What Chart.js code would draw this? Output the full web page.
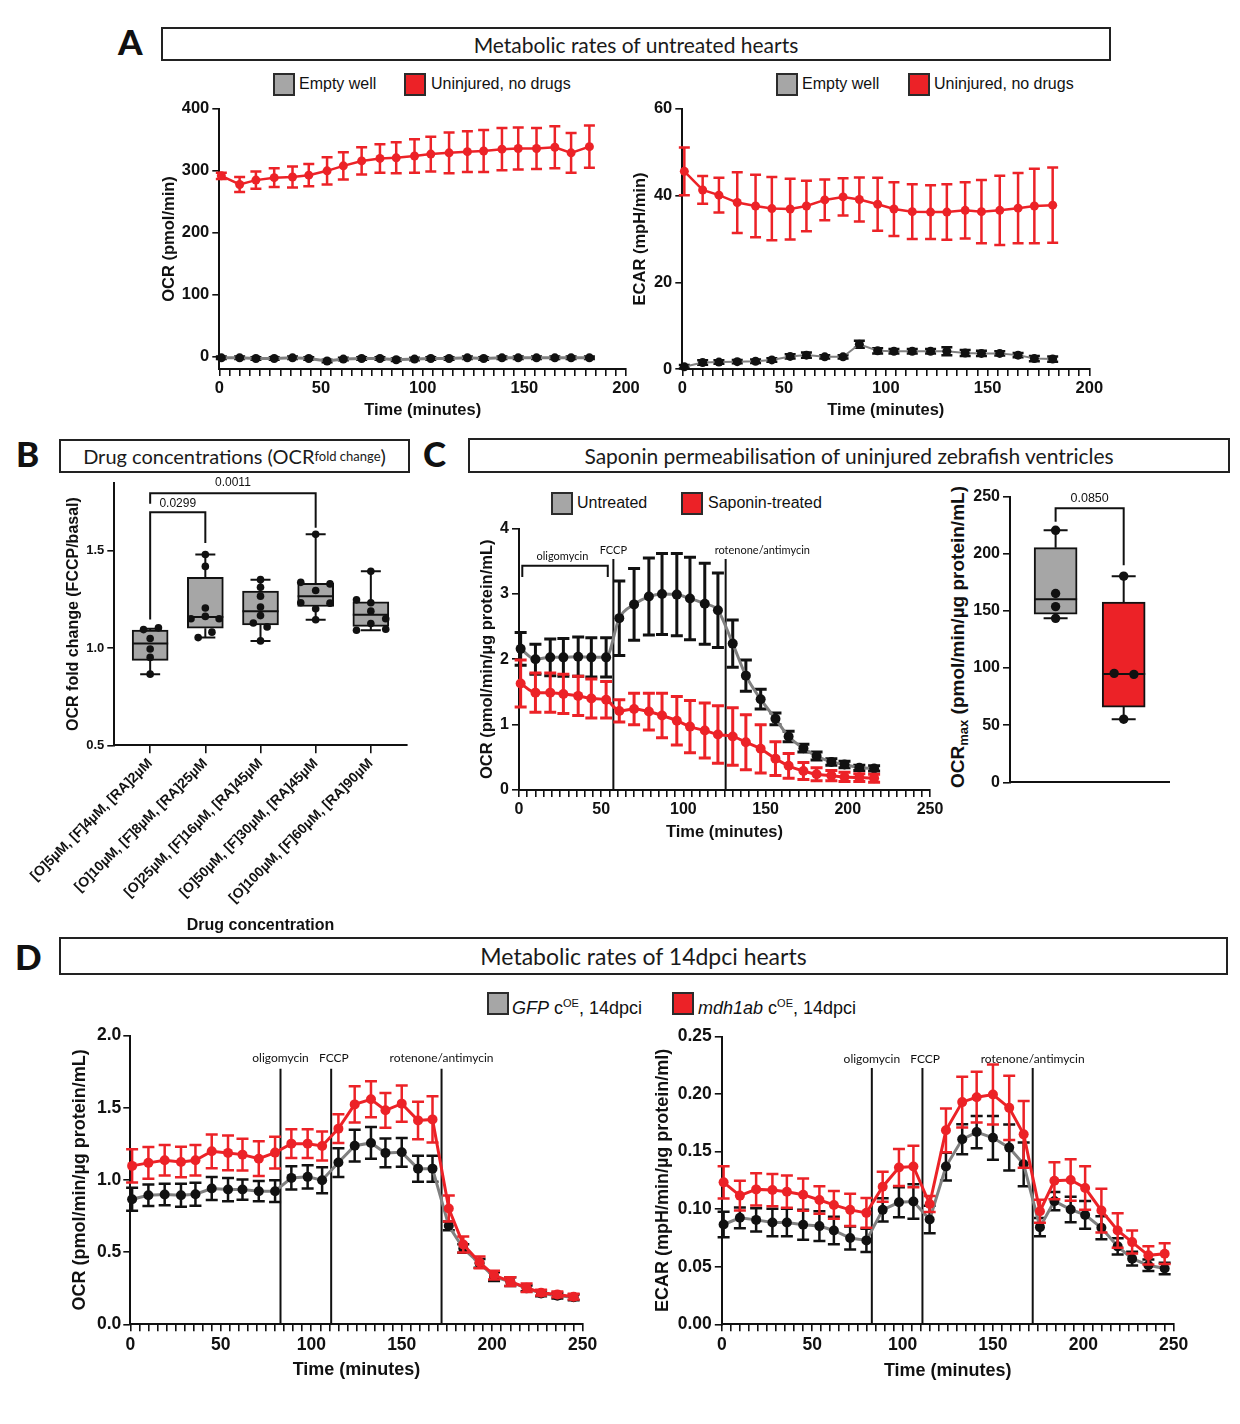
<!DOCTYPE html>
<html><head><meta charset="utf-8">
<title>Metabolic rates</title>
<script src="https://cdn.jsdelivr.net/npm/chart.js@4.4.1/dist/chart.umd.min.js"></script>
<style>
html,body{margin:0;padding:0;background:#fff}
body{width:1240px;height:1424px;position:relative;overflow:hidden;font-family:'Liberation Sans',Arial,sans-serif;color:#111}
.letter{position:absolute;font-family:Lato,sans-serif;font-weight:900;font-size:35px;line-height:35px;color:#111}
.tbox{position:absolute;box-sizing:border-box;border:2px solid #222;display:flex;align-items:center;justify-content:center;font-family:Lato,sans-serif;font-size:21px;color:#1a1a1a;white-space:nowrap}
.tbox sub{font-size:13px;vertical-align:-3px}
.sw{position:absolute;box-sizing:border-box;width:22px;height:23px;border:2px solid #2b2b2b}
.lt{position:absolute;font-size:16px;line-height:20px;white-space:nowrap}
.lt sup{font-size:11px}
canvas{position:absolute}
.ytitle{position:absolute;transform:translate(-50%,-50%) rotate(-90deg);white-space:nowrap;font-weight:bold;font-size:19px;line-height:22px}
.ytitle sub{font-size:13px;vertical-align:-4px}
</style></head><body>

<div class="letter" style="left:118px;top:24px">A</div>
<div class="letter" style="left:16px;top:436px">B</div>
<div class="letter" style="left:423px;top:436px">C</div>
<div class="letter" style="left:15px;top:939px">D</div>

<div class="tbox" style="left:161px;top:27px;width:950px;height:34px">Metabolic rates of untreated hearts</div>
<div class="tbox" style="left:59px;top:439px;width:351px;height:34px;font-size:20px">Drug concentrations (OCR<sub>fold change</sub>)</div>
<div class="tbox" style="left:468px;top:438px;width:762px;height:35px">Saponin permeabilisation of uninjured zebrafish ventricles</div>
<div class="tbox" style="left:59px;top:937px;width:1169px;height:38px;font-size:23px">Metabolic rates of 14dpci hearts</div>

<div class="sw" style="left:273px;top:73px;background:#a6a6a6"></div>
<div class="lt" style="left:299px;top:74px">Empty well</div>
<div class="sw" style="left:404px;top:73px;background:#ec2227"></div>
<div class="lt" style="left:431px;top:74px">Uninjured, no drugs</div>

<div class="sw" style="left:776px;top:73px;background:#a6a6a6"></div>
<div class="lt" style="left:802px;top:74px">Empty well</div>
<div class="sw" style="left:908px;top:73px;background:#ec2227"></div>
<div class="lt" style="left:934px;top:74px">Uninjured, no drugs</div>

<div class="sw" style="left:551px;top:492px;background:#a6a6a6"></div>
<div class="lt" style="left:577px;top:493px">Untreated</div>
<div class="sw" style="left:681px;top:492px;background:#ec2227"></div>
<div class="lt" style="left:708px;top:493px">Saponin-treated</div>

<div class="sw" style="left:487px;top:992px;background:#a6a6a6"></div>
<div class="lt" style="left:512px;top:993px;font-size:18px"><i>GFP</i> c<sup>OE</sup>, 14dpci</div>
<div class="sw" style="left:672px;top:992px;background:#ec2227"></div>
<div class="lt" style="left:698px;top:993px;font-size:18px"><i>mdh1ab</i> c<sup>OE</sup>, 14dpci</div>

<div class="ytitle" style="left:961px;top:637px">OCR<sub>max</sub> (pmol/min/µg protein/mL)</div>

<script>
// ---------------- DATA ----------------
// Panel A (time in minutes)
const aTime = [1,10,18,27,36,44,53,61,70,79,87,96,104,113,122,130,139,147,156,165,173,182];
const aOcrEmpty   = [-2,-2,-3,-3,-2,-3,-7,-4,-3,-3,-5,-4,-3,-3,-2,-3,-2,-2,-2,-2,-2,-2];
const aOcrEmptySd = [2,2,2,2,2,2,2,2,2,2,2,2,2,2,2,2,2,2,2,2,2,2];
const aOcrUninj   = [292,278,285,289,290,293,300,308,316,320,321,324,327,329,331,332,335,336,336,338,329,339];
const aOcrUninjSd = [5,12,14,15,17,18,22,22,22,23,25,27,28,33,33,34,34,34,33,34,32,34];
const aEcarEmpty   = [0.5,1.5,1.6,1.7,1.8,2.1,2.9,3.2,2.8,2.8,5.7,4.2,4.1,4.1,4.1,4.1,3.7,3.6,3.6,3.2,2.4,2.3];
const aEcarEmptySd = [0.4,0.5,0.4,0.4,0.4,0.4,0.5,0.6,0.4,0.4,0.8,0.6,0.5,0.5,0.5,0.9,0.7,0.6,0.5,0.5,0.6,0.6];
const aEcarUninj   = [45.6,41.3,40.1,38.4,37.6,37.0,36.9,37.6,39.0,39.7,39.1,38.0,36.9,36.3,36.2,36.2,36.6,36.3,36.6,37.1,37.6,37.8];
const aEcarUninjSd = [5.5,3.2,4.0,7.0,7.2,7.3,7.0,5.8,4.7,4.3,5.1,6.1,6.2,6.3,6.2,6.4,6.5,7.3,8.0,8.1,8.6,8.7];
const aTimeLabels = [0,50,100,150,200];
const aOcrTicks = [0,100,200,300,400];
const aEcarTicks = [0,20,40,60];

// Panel B (box plots)
const bLabels = ['[O]5µM, [F]4µM, [RA]2µM','[O]10µM, [F]8µM, [RA]25µM','[O]25µM, [F]16µM, [RA]45µM','[O]50µM, [F]30µM, [RA]45µM','[O]100µM, [F]60µM, [RA]90µM'];
const bMin = [0.866,1.054,1.037,1.146,1.092];
const bQ1  = [0.937,1.102,1.119,1.214,1.112];
const bMed = [1.024,1.160,1.189,1.267,1.172];
const bQ3  = [1.092,1.364,1.293,1.333,1.238];
const bMax = [1.100,1.481,1.352,1.585,1.395];
const bPoints = [
  [1.095,1.104,1.049,0.995,0.952,0.866],
  [1.481,1.420,1.206,1.151,1.163,1.151,1.082,1.054],
  [1.352,1.313,1.267,1.211,1.167,1.129,1.109,1.037],
  [1.585,1.338,1.330,1.296,1.233,1.231,1.202,1.146],
  [1.395,1.248,1.233,1.190,1.151,1.126,1.092,1.097]
];
const bJitter = [
  [-0.12,0.15,0,0,0,0],
  [0,0,0,-0.26,0,0.25,0.12,-0.13],
  [0,0,0,0,0,-0.13,0.12,0],
  [0,-0.27,0.26,0,-0.27,0.26,0,0],
  [0,-0.26,0,0,0.27,0,-0.26,0.27]
];
const bTicks = [0.5,1.0,1.5];
const bPvals = ['0.0299','0.0011'];

// Panel C left
const cTime = [1,10,19,27,36,44,53,61,70,79,87,96,104,113,121,130,138,147,156,164,173,181,190,198,207,216];
const cUntreated   = [2.16,2.00,2.03,2.03,2.04,2.03,2.03,2.63,2.84,2.96,3.00,2.99,2.93,2.85,2.75,2.24,1.75,1.39,1.09,0.82,0.64,0.52,0.43,0.39,0.34,0.33];
const cUntreatedSd = [0.25,0.23,0.28,0.29,0.30,0.30,0.30,0.57,0.55,0.59,0.62,0.63,0.63,0.62,0.57,0.36,0.24,0.15,0.09,0.08,0.06,0.06,0.05,0.05,0.04,0.04];
const cSaponin   = [1.63,1.49,1.49,1.47,1.44,1.40,1.38,1.21,1.24,1.20,1.14,1.06,0.97,0.91,0.85,0.82,0.73,0.63,0.48,0.37,0.29,0.24,0.22,0.20,0.19,0.18];
const cSaponinSd = [0.36,0.30,0.30,0.30,0.30,0.30,0.28,0.17,0.24,0.28,0.34,0.37,0.40,0.42,0.44,0.44,0.42,0.37,0.26,0.19,0.13,0.10,0.08,0.07,0.06,0.06];
const cInjections = [57.4,125.7];
const cTimeLabels = [0,50,100,150,200,250];
const cOcrTicks = [0,1,2,3,4];

// Panel C right (OCR max box plots)
const cmMin = [143.5,55.3];
const cmQ1  = [147.2,65.9];
const cmMed = [160.1,94.8];
const cmQ3  = [205.3,157.8];
const cmMax = [220.5,180.4];
const cmPoints = [[220.5,165.2,153.8,143.5],[180.4,95.4,94.5,55.3]];
const cmJitter = [[0,0,0,0],[0,-0.14,0.15,0]];
const cmTicks = [0,50,100,150,200,250];
const cmPval = '0.0850';

// Panel D
const dTime = [1,10,19,28,36,45,54,62,71,80,89,98,106,115,124,133,141,150,159,167,176,184,193,201,210,219,227,236,245];
const dOcrGfp   = [0.866,0.894,0.899,0.894,0.901,0.940,0.933,0.933,0.922,0.922,1.014,1.021,0.998,1.120,1.237,1.256,1.187,1.191,1.078,1.078,0.682,0.525,0.422,0.330,0.295,0.249,0.214,0.198,0.187];
const dOcrGfpSd = [0.08,0.075,0.075,0.08,0.08,0.08,0.08,0.07,0.07,0.075,0.08,0.08,0.09,0.10,0.11,0.11,0.10,0.10,0.09,0.09,0.03,0.03,0.03,0.03,0.03,0.02,0.02,0.02,0.02];
const dOcrMdh   = [1.097,1.118,1.136,1.124,1.136,1.198,1.187,1.175,1.147,1.189,1.251,1.251,1.235,1.355,1.523,1.558,1.482,1.528,1.412,1.419,0.802,0.553,0.429,0.341,0.295,0.253,0.219,0.207,0.191];
const dOcrMdhSd = [0.115,0.11,0.105,0.105,0.105,0.117,0.12,0.11,0.12,0.11,0.10,0.10,0.10,0.10,0.125,0.125,0.12,0.125,0.13,0.16,0.09,0.055,0.04,0.03,0.03,0.03,0.02,0.02,0.02];
const dEcarGfp   = [0.0867,0.0925,0.0907,0.0884,0.0884,0.0864,0.0853,0.0815,0.0749,0.0729,0.0994,0.1060,0.1066,0.0910,0.1370,0.1607,0.1670,0.1620,0.1535,0.1390,0.0844,0.1070,0.0997,0.0950,0.0838,0.0677,0.0570,0.0513,0.0484];
const dEcarGfpSd = [0.011,0.009,0.010,0.012,0.012,0.013,0.013,0.012,0.010,0.010,0.010,0.013,0.015,0.012,0.012,0.013,0.014,0.019,0.020,0.019,0.008,0.008,0.011,0.012,0.010,0.007,0.006,0.005,0.005];
const dEcarMdh   = [0.1233,0.1118,0.1172,0.1166,0.1152,0.1126,0.1080,0.1037,0.0994,0.0968,0.1195,0.1362,0.1371,0.1045,0.1685,0.1930,0.1973,0.1996,0.1880,0.1650,0.0982,0.1247,0.1253,0.1184,0.0988,0.0815,0.0714,0.0599,0.0613];
const dEcarMdhSd = [0.014,0.013,0.014,0.014,0.014,0.014,0.012,0.012,0.014,0.013,0.013,0.016,0.018,0.007,0.019,0.022,0.022,0.026,0.028,0.029,0.010,0.016,0.018,0.019,0.019,0.015,0.010,0.008,0.009];
const dInjections = [83,111,172];
const injectionNames = ['oligomycin','FCCP','rotenone/antimycin'];
const dTimeLabels = [0,50,100,150,200,250];
const dOcrTicks = [0,0.5,1.0,1.5,2.0];
const dEcarTicks = [0,0.05,0.10,0.15,0.20,0.25];

// ---------------- STYLE / HELPERS ----------------
const RED='#ec2227', BLACK='#111111', LINEGRAY='#808080', BOXGRAY='#a6a6a6';
const FONT="'Liberation Sans', Arial, Helvetica, sans-serif";
Chart.defaults.font.family = FONT;
Chart.defaults.color = BLACK;
Chart.defaults.animation = false;
Chart.defaults.plugins.legend.display = false;
Chart.defaults.plugins.tooltip.enabled = false;

function makeCanvas(g){
  const c=document.createElement('canvas');
  c.width=g.W; c.height=g.H;
  c.style.left=g.L+'px'; c.style.top=g.T+'px';
  c.style.width=g.W+'px'; c.style.height=g.H+'px';
  document.body.appendChild(c); return c;
}
const gridOpt = (tl)=>({display:true,drawOnChartArea:false,drawTicks:true,tickLength:tl,color:BLACK,lineWidth:1.6,offset:false});
const borderOpt = {display:true,color:BLACK,width:2};

function xTime(min,max,labels,g,fs,tfs){
  return {type:'linear',min,max,offset:false,
    afterBuildTicks(ax){const t=[];for(let v=min;v<=max+0.001;v+=5)t.push({value:v});ax.ticks=t;},
    afterFit(ax){ax.height=g.xH;},
    ticks:{autoSkip:false,maxRotation:0,minRotation:0,padding:3,font:{size:fs,weight:'bold'},color:BLACK,
      callback:(v)=>labels.includes(v)?String(v):''},
    grid:gridOpt(7), border:borderOpt,
    title:{display:true,text:'Time (minutes)',font:{size:tfs,weight:'bold'},color:BLACK,padding:{top:4,bottom:4}}
  };
}
function yLin(min,max,ticks,dec,g,fs,title,tfs,tl,pad){
  return {type:'linear',min,max,
    afterBuildTicks(ax){ax.ticks=ticks.map(v=>({value:v}));},
    afterFit(ax){ax.width=g.yW;},
    ticks:{padding:pad===undefined?3:pad,font:{size:fs,weight:'bold'},color:BLACK,callback:(v)=>Number(v).toFixed(dec)},
    grid:gridOpt(tl||7), border:borderOpt,
    title:{display:!!title,text:title||'',font:{size:tfs,weight:'bold'},color:BLACK,padding:{top:4,bottom:4}}
  };
}
function series(xs,ys,errs,ptColor,lineColor,lineW,radius,order,smooth,cap,errW){
  return {type:'line',data:xs.map((x,i)=>({x,y:ys[i]})),errors:errs,errColor:ptColor,capHalf:cap,errWidth:errW,
    borderColor:lineColor,borderWidth:lineW,pointRadius:radius,pointBackgroundColor:ptColor,pointBorderColor:ptColor,
    pointBorderWidth:0,order,clip:false,fill:false,tension:smooth?0.4:0,cubicInterpolationMode:smooth?'monotone':'default'};
}
const errorBars = {
  id:'errorBars',
  beforeDatasetDraw(chart,args){
    const ds=chart.data.datasets[args.index];
    if(!ds.errors) return;
    const y=chart.scales.y, ctx=chart.ctx;
    ctx.save(); ctx.strokeStyle=ds.errColor; ctx.lineWidth=ds.errWidth||2.5; ctx.lineCap='butt';
    args.meta.data.forEach((pt,i)=>{
      const v=ds.data[i].y, e=ds.errors[i];
      const y1=y.getPixelForValue(v+e), y2=y.getPixelForValue(v-e), c=ds.capHalf||6;
      ctx.beginPath();
      ctx.moveTo(pt.x,y1); ctx.lineTo(pt.x,y2);
      ctx.moveTo(pt.x-c,y1); ctx.lineTo(pt.x+c,y1);
      ctx.moveTo(pt.x-c,y2); ctx.lineTo(pt.x+c,y2);
      ctx.stroke();
    });
    ctx.restore();
  }
};
function makeAnnot(cfg){
  return {
    id:'annot',
    beforeDatasetsDraw(chart){
      const {ctx,scales:{x,y}}=chart;
      ctx.save(); ctx.strokeStyle=BLACK; ctx.lineWidth=cfg.lineW||2;
      (cfg.lines||[]).forEach(l=>{
        const px=x.getPixelForValue(l.x);
        ctx.beginPath(); ctx.moveTo(px,y.getPixelForValue(l.y0)); ctx.lineTo(px,y.getPixelForValue(l.y1)); ctx.stroke();
      });
      ctx.restore();
    },
    afterDatasetsDraw(chart){
      const {ctx,scales:{x,y}}=chart;
      ctx.save(); ctx.strokeStyle=BLACK; ctx.lineWidth=cfg.lineW||2;
      (cfg.brackets||[]).forEach(b=>{
        ctx.beginPath();
        ctx.moveTo(x.getPixelForValue(b.x0),y.getPixelForValue(b.yb0));
        ctx.lineTo(x.getPixelForValue(b.x0),y.getPixelForValue(b.yt));
        ctx.lineTo(x.getPixelForValue(b.x1),y.getPixelForValue(b.yt));
        ctx.lineTo(x.getPixelForValue(b.x1),y.getPixelForValue(b.yb1));
        ctx.stroke();
      });
      ctx.fillStyle=BLACK; ctx.textAlign='center'; ctx.textBaseline='middle';
      (cfg.texts||[]).forEach(t=>{
        ctx.font=cfg.font;
        ctx.fillText(t.text,x.getPixelForValue(t.x),y.getPixelForValue(t.y));
      });
      ctx.restore();
    }
  };
}
function makeWhiskers(st,cap){
  return {
    id:'boxWhisk',
    afterDatasetDraw(chart,args){
      if(args.meta.type!=='bar') return;
      const {ctx,scales:{y}}=chart;
      ctx.save(); ctx.strokeStyle=BLACK; ctx.lineWidth=2;
      args.meta.data.forEach((bar,i)=>{
        const cx=bar.x, hw=bar.width/2;
        const pMin=y.getPixelForValue(st.min[i]), pQ1=y.getPixelForValue(st.q1[i]),
              pMed=y.getPixelForValue(st.med[i]), pQ3=y.getPixelForValue(st.q3[i]), pMax=y.getPixelForValue(st.max[i]);
        ctx.beginPath();
        ctx.moveTo(cx,pQ3); ctx.lineTo(cx,pMax);
        ctx.moveTo(cx-cap,pMax); ctx.lineTo(cx+cap,pMax);
        ctx.moveTo(cx,pQ1); ctx.lineTo(cx,pMin);
        ctx.moveTo(cx-cap,pMin); ctx.lineTo(cx+cap,pMin);
        ctx.moveTo(cx-hw,pMed); ctx.lineTo(cx+hw,pMed);
        ctx.stroke();
      });
      ctx.restore();
    }
  };
}
function jitterPoints(points,jit){
  const out=[]; points.forEach((arr,i)=>arr.forEach((v,j)=>out.push({x:i+jit[i][j],y:v}))); return out;
}
function lineOpts(g,xs,ys){
  return {responsive:false,animation:false,layout:{padding:{top:g.padT,right:g.padR,left:0,bottom:0}},scales:{x:xs,y:ys}};
}

// ---------------- GEOMETRY ----------------
const gA1={L:156,T:96,W:492,H:328,yW:63.3,padT:11.7,padR:22,xH:55};
const gA2={L:627,T:96,W:484,H:328,yW:55.3,padT:11.3,padR:21.7,xH:55};
const gB ={L:10,T:472,W:410,H:467,padL:50,yW:54.3,padT:9.7,padR:13.3,xH:193.7};
const gC1={L:474,T:516,W:478,H:330,yW:45,padT:10,padR:22,xH:56};
const gC2={L:960,T:484,W:220,H:311,yW:50,padT:10,padR:10.7,xH:10};
const gD1={L:65,T:1023,W:540,H:362,yW:65.3,padT:12,padR:22.3,xH:60.7};
const gD2={L:648,T:1023,W:548,H:363,yW:73.8,padT:12,padR:22.3,xH:61.7};

// ---------------- PANEL A ----------------
new Chart(makeCanvas(gA1),{type:'line',
  data:{datasets:[
    series(aTime,aOcrEmpty,aOcrEmptySd,BLACK,LINEGRAY,3,4.5,1,false,5.5,2.5),
    series(aTime,aOcrUninj,aOcrUninjSd,RED,RED,2.5,4.5,0,false,5.5,2.5)]},
  options:lineOpts(gA1,xTime(0,200,aTimeLabels,gA1,16.5,16.5),yLin(-20,400,aOcrTicks,0,gA1,16.5,'OCR (pmol/min)',16.5)),
  plugins:[errorBars]});

new Chart(makeCanvas(gA2),{type:'line',
  data:{datasets:[
    series(aTime,aEcarEmpty,aEcarEmptySd,BLACK,LINEGRAY,2,4.5,1,false,5.5,2.5),
    series(aTime,aEcarUninj,aEcarUninjSd,RED,RED,2.5,4.5,0,false,5.5,2.5)]},
  options:lineOpts(gA2,xTime(0,200,aTimeLabels,gA2,16.5,16.5),yLin(0,60,aEcarTicks,0,gA2,16.5,'ECAR (mpH/min)',16.5)),
  plugins:[errorBars]});

// ---------------- PANEL B ----------------
new Chart(makeCanvas(gB),{type:'scatter',
  data:{datasets:[
    {type:'scatter',data:jitterPoints(bPoints,bJitter),pointRadius:3.8,pointBackgroundColor:BLACK,pointBorderWidth:0,order:1,clip:false},
    {type:'bar',data:bLabels.map((_,i)=>({x:i,y:[bQ1[i],bQ3[i]]})),backgroundColor:BOXGRAY,borderColor:BLACK,borderWidth:2,borderSkipped:false,barThickness:36,order:2}
  ]},
  options:{responsive:false,animation:false,layout:{padding:{top:gB.padT,right:gB.padR,left:gB.padL,bottom:0}},
    scales:{
      x:{type:'linear',min:-0.65,max:4.65,offset:false,
        afterBuildTicks(ax){ax.ticks=bLabels.map((_,i)=>({value:i}));},
        afterFit(ax){ax.height=gB.xH;ax.paddingLeft=0;ax.paddingRight=0;},
        ticks:{autoSkip:false,minRotation:45,maxRotation:45,padding:2,font:{size:14,weight:'bold'},color:BLACK,callback:(v)=>bLabels[v]},
        grid:gridOpt(8),border:borderOpt,
        title:{display:true,text:'Drug concentration',font:{size:16,weight:'bold'},color:BLACK,padding:{top:4,bottom:4}}},
      y:yLin(0.5,1.85,bTicks,1,gB,13,'OCR fold change (FCCP/basal)',16,7,3)
    }},
  plugins:[makeWhiskers({min:bMin,q1:bQ1,med:bMed,q3:bQ3,max:bMax},10),
    makeAnnot({font:"12px "+FONT,lineW:2,
      brackets:[{x0:0,x1:1,yt:1.699,yb0:1.147,yb1:1.54},{x0:0,x1:3,yt:1.796,yb0:1.742,yb1:1.619}],
      texts:[{x:0.5,y:1.742,text:bPvals[0]},{x:1.5,y:1.85,text:bPvals[1]}]})]});

// ---------------- PANEL C ----------------
new Chart(makeCanvas(gC1),{type:'line',
  data:{datasets:[
    series(cTime,cUntreated,cUntreatedSd,BLACK,LINEGRAY,3,5,1,true,6,3),
    series(cTime,cSaponin,cSaponinSd,RED,RED,3,5,0,true,6,3)]},
  options:lineOpts(gC1,xTime(0,250,cTimeLabels,gC1,16,16.5),yLin(0,4,cOcrTicks,0,gC1,16,'OCR (pmol/min/µg protein/mL)',16.5)),
  plugins:[errorBars,makeAnnot({font:"11px Lato, sans-serif",lineW:2,
    lines:[{x:cInjections[0],y0:3.535,y1:0},{x:cInjections[1],y0:3.535,y1:0}],
    brackets:[{x0:2,x1:54,yt:3.43,yb0:3.26,yb1:3.26}],
    texts:[{x:26.4,y:3.57,text:injectionNames[0]},{x:cInjections[0],y:3.67,text:injectionNames[1]},{x:148,y:3.67,text:injectionNames[2]}]})]});

new Chart(makeCanvas(gC2),{type:'scatter',
  data:{datasets:[
    {type:'scatter',data:jitterPoints(cmPoints,cmJitter),pointRadius:4.7,pointBackgroundColor:BLACK,pointBorderWidth:0,order:1,clip:false},
    {type:'bar',data:cmQ1.map((q,i)=>({x:i,y:[q,cmQ3[i]]})),backgroundColor:[BOXGRAY,RED],borderColor:BLACK,borderWidth:2,borderSkipped:false,barThickness:43,order:2}
  ]},
  options:{responsive:false,animation:false,layout:{padding:{top:gC2.padT,right:gC2.padR,left:0,bottom:0}},
    scales:{
      x:{type:'linear',min:-0.67,max:1.67,offset:false,afterFit(ax){ax.height=gC2.xH;},
        ticks:{display:false},grid:{display:false},border:borderOpt},
      y:yLin(0,250,cmTicks,0,gC2,16,'',16)
    }},
  plugins:[makeWhiskers({min:cmMin,q1:cmQ1,med:cmMed,q3:cmQ3,max:cmMax},12),
    makeAnnot({font:"12.5px "+FONT,lineW:2,
      brackets:[{x0:0,x1:1,yt:239.7,yb0:228,yb1:189.9}],
      texts:[{x:0.5,y:248.3,text:cmPval}]})]});

// ---------------- PANEL D ----------------
function dAnnot(top,labelY){
  return makeAnnot({font:"12px Lato, sans-serif",lineW:2,
    lines:dInjections.map(t=>({x:t,y0:top,y1:0})),
    texts:[{x:dInjections[0],y:labelY,text:injectionNames[0]},{x:dInjections[1]+1.5,y:labelY,text:injectionNames[1]},{x:dInjections[2],y:labelY,text:injectionNames[2]}]});
}
new Chart(makeCanvas(gD1),{type:'line',
  data:{datasets:[
    series(dTime,dOcrGfp,dOcrGfpSd,BLACK,LINEGRAY,3,5,1,false,6,2.5),
    series(dTime,dOcrMdh,dOcrMdhSd,RED,RED,3,5,0,false,6,2.5)]},
  options:lineOpts(gD1,xTime(0,250,dTimeLabels,gD1,17.5,18),yLin(0,2,dOcrTicks,1,gD1,17.5,'OCR (pmol/min/µg protein/mL)',18,7,2)),
  plugins:[errorBars,dAnnot(1.77,1.84)]});

new Chart(makeCanvas(gD2),{type:'line',
  data:{datasets:[
    series(dTime,dEcarGfp,dEcarGfpSd,BLACK,LINEGRAY,3,5,1,false,6,2.5),
    series(dTime,dEcarMdh,dEcarMdhSd,RED,RED,3,5,0,false,6,2.5)]},
  options:lineOpts(gD2,xTime(0,250,dTimeLabels,gD2,17.5,18),yLin(0,0.25,dEcarTicks,2,gD2,17.5,'ECAR (mpH/min/µg protein/ml)',18,7,3)),
  plugins:[errorBars,dAnnot(0.2226,0.2307)]});
</script>
</body></html>
